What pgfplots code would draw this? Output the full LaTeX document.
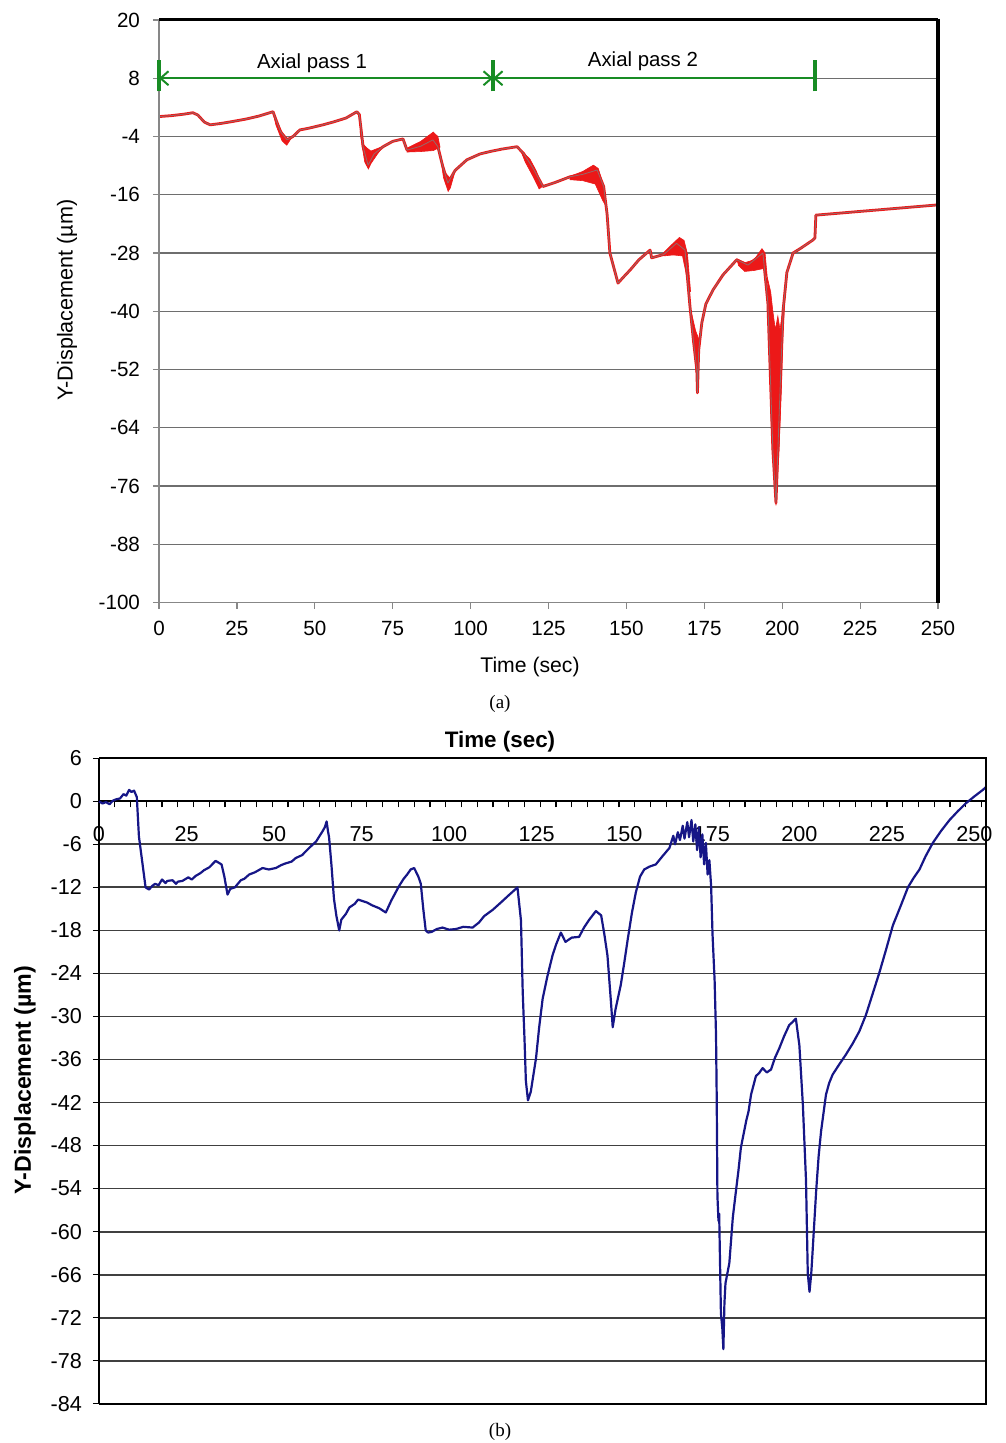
\documentclass[border=0pt]{standalone}
\usepackage{fontspec}
\setmainfont{Liberation Sans}
\newfontfamily\capfont{Liberation Serif}
\usepackage{pgfplots}
\usepackage{pgfplotstable}
\pgfplotsset{compat=1.18}
\usetikzlibrary{arrows.meta}

\definecolor{tracered}{RGB}{236,24,24}
\definecolor{traceedge}{RGB}{150,105,105}
\definecolor{passgreen}{RGB}{24,140,36}
\definecolor{tracenavy}{RGB}{22,22,135}
\definecolor{gridgray}{RGB}{110,110,110}
\definecolor{axisgray}{RGB}{135,135,135}

% (a) Y-displacement, red trace
\pgfplotstableread{
t v
0 0.1
4 0.3
8 0.6
10.9 0.9
12.5 0.4
14.5 -1.0
16.4 -1.6
20 -1.3
23.7 -0.9
28 -0.4
32 0.2
36.6 1.1
37.5 -0.5
39 -3
41.1 -4.7
43 -4.0
45.2 -2.65
48 -2.3
52.6 -1.6
56 -1.0
60 -0.2
63.5 1.1
64.3 0.5
65.5 -6.1
67.1 -9.9
69 -7.6
71.9 -6.1
75 -5
78.3 -4.5
79.6 -6.8
84 -6.0
87.9 -4.7
89.5 -6.1
91 -10
92.7 -13.6
95 -11
98.8 -8.8
103 -7.6
106.2 -7.1
110 -6.6
114.9 -6.1
117 -7.5
120 -10.5
123.2 -14.3
127 -13.5
131.9 -12.3
136 -11.8
140.6 -10.9
142.7 -14.3
143.8 -20
144.7 -28
147.3 -34.2
149 -33
151.2 -31.5
154 -29.4
157.6 -27.4
158.1 -29
162 -28.3
166.1 -26
168.8 -27.4
170.4 -39
171.5 -46
172.6 -52.1
172.8 -56.8
173.2 -48
174.2 -42.4
175.5 -38.5
177.8 -35.6
181 -32.5
185.4 -29.4
189 -30.5
193.8 -28
195.4 -38.3
197 -68.5
198 -79.5
199.2 -58
200.3 -39.7
201.5 -32
203.5 -28
206 -27
209.9 -25.3
210.5 -24.9
210.8 -20.2
249.7 -18.1
}\toptrace

% (b) Y-displacement, blue trace
\pgfplotstableread{
t v
0 0
1 -0.3
2 -0.1
3 -0.4
4 0.1
5 0.3
6 0.4
7 1.0
7.8 0.8
8.6 1.6
9.3 1.3
10 1.5
10.8 0.6
11.4 -4.9
12.5 -9
13.3 -12
14.3 -12.3
15.2 -11.8
16 -11.5
17 -11.7
18 -10.9
19 -11.4
19.5 -11.1
21 -11.0
22 -11.5
22.5 -11.2
23.8 -11.1
25.5 -10.6
26.5 -10.9
27.6 -10.4
29 -10.0
30 -9.6
31.5 -9.2
32.5 -8.7
33.3 -8.3
35 -8.8
35.8 -10.5
36.7 -13
37.5 -12.2
38.8 -12
40.5 -11.0
41.5 -10.8
42.9 -10.2
44.5 -9.9
46.7 -9.3
48.5 -9.5
50.5 -9.3
52 -8.9
53 -8.7
55 -8.4
56.2 -7.9
58 -7.5
60 -6.5
62 -5.6
63.8 -4.2
64.5 -3.6
65 -2.8
65.4 -4.2
65.7 -5
66.4 -9
67.1 -13.6
67.8 -16
68.6 -18
69.2 -16.5
70.5 -15.7
71.5 -14.8
73 -14.3
74 -13.7
75.2 -13.9
76.5 -14.1
78 -14.5
80 -14.9
81.9 -15.5
83.5 -13.8
85.7 -11.8
87 -10.8
88 -10.2
89 -9.5
90 -9.3
91.2 -10.5
91.9 -11.5
92.6 -15
93.3 -18
94 -18.3
95 -18.2
96.5 -17.8
98.1 -17.6
100 -17.9
102 -17.8
104 -17.5
106.7 -17.6
108.5 -16.9
110 -16
112.5 -15.1
115 -14
117 -13.1
119.5 -12
120.5 -16.6
121 -26.6
121.5 -33
121.9 -39
122.5 -41.7
123.3 -40.5
124.8 -35.8
125.7 -31.5
126.7 -27.5
128 -24.5
129.5 -21.5
130.5 -20
131.9 -18.3
133.2 -19.6
135 -19
137.1 -18.9
138.5 -17.6
140 -16.5
141.9 -15.3
143.4 -15.9
144.3 -18.5
145.2 -21.5
146.2 -28
146.7 -31.5
147.5 -29
149 -25.6
150 -22.5
151 -19.2
152.2 -15.5
153.3 -12.7
154.5 -10.5
155.7 -9.5
157.2 -9.1
159 -8.8
161 -7.6
162.9 -6.5
164 -4.8
164.5 -6.0
165.3 -4.3
165.9 -5.4
166.7 -3.4
167.2 -5.2
168 -2.9
168.5 -5.0
169.2 -2.6
169.7 -5.6
170.3 -3.2
170.8 -6.8
171.3 -3.6
171.8 -7.8
172.3 -4.6
172.8 -8.8
173.3 -5.8
173.8 -10.2
174.3 -8.2
174.8 -11.8
175.2 -18.5
175.8 -25
176.2 -32.6
176.4 -41.4
176.6 -55
176.9 -58.5
177.1 -57.5
177.6 -71.4
178 -73.5
178.3 -76.4
178.6 -70
178.9 -67.2
180 -64.4
181 -58
181.9 -54.3
182.6 -51.5
183.3 -48.3
184.8 -44.6
185.5 -43.2
186.2 -40.9
187.6 -38.3
188.5 -37.9
189.5 -37.2
190.7 -37.8
191.9 -37.4
193 -35.8
194.3 -34.4
195.6 -32.8
197.1 -31.2
198 -30.8
199 -30.3
200 -34
201 -42.3
201.9 -52.9
202.4 -65.8
202.9 -68.4
203.4 -65.8
203.8 -62.6
204.8 -54.3
205.5 -49.5
206.2 -46
207.6 -40.9
208.5 -39.3
209.5 -38.1
211.5 -36.6
213.3 -35.3
215.2 -33.8
217.1 -32.1
219 -29.8
220.5 -27.5
222.9 -23.8
224.8 -20.6
226.7 -17.3
229 -14.5
231 -12
232.6 -10.7
234.3 -9.5
236 -7.7
238.1 -5.8
240.5 -4.1
242.9 -2.6
245.2 -1.4
247.6 -0.25
250 0.7
252.4 1.6
253.3 2.0
}\bottomtrace

\begin{document}
\begin{tikzpicture}
% ---------------- panel (a) ----------------
\begin{axis}[
  at={(79.5pt,-301.25pt)}, anchor=south west,
  scale only axis, width=389.5pt, height=291.25pt,
  xmin=0, xmax=250, ymin=-100, ymax=20,
  xtick={0,25,...,250}, ytick={-100,-88,...,20},
  xtick pos=bottom, ytick pos=left, tick align=outside,
  major tick length=3pt,
  tick style={draw=axisgray, line width=0.6pt},
  axis line style={draw=none},
  ymajorgrids, grid style={draw=gridgray, line width=0.7pt},
  ticklabel style={font=\fontsize{10.3}{12}\selectfont},
  xticklabel style={yshift=-3pt},
  yticklabel style={xshift=-3pt},
  /pgf/number format/assume math mode=true,
  clip=false,
]
\addplot[tracered, line width=1.4pt, line join=round] table[x=t,y=v] {\toptrace};
% thicker oscillation bands along the trace
\addplot[fill=tracered, draw=tracered, line width=0.3pt] coordinates {
 (36.6,1.0) (38,-1.2) (40,-3.8) (41.5,-4.5) (43,-3.8) (41,-5.8) (39.5,-4.9) (37.5,-1.6)} -- cycle;
\addplot[fill=tracered, draw=tracered, line width=0.3pt] coordinates {
 (64.5,-3) (65.5,-5.6) (66.6,-6.3) (68,-7) (70,-6.5) (72,-6.0) (70,-7.7) (68,-9.6) (67.2,-10.7) (66,-9.2)} -- cycle;
\addplot[fill=tracered, draw=tracered, line width=0.3pt] coordinates {
 (79.6,-6.4) (84,-5) (88,-3.1) (89.5,-4.0) (90.2,-6.2) (88,-6.9) (84,-7.1) (79.6,-7.2)} -- cycle;
\addplot[fill=tracered, draw=tracered, line width=0.3pt] coordinates {
 (90.2,-7.5) (91.8,-11.4) (93.4,-12.6) (95,-11.2) (93.5,-14.6) (92.8,-15.3) (91.3,-12.5)} -- cycle;
\addplot[fill=tracered, draw=tracered, line width=0.3pt] coordinates {
 (116,-6.8) (119,-8.6) (121,-11) (123,-14.3) (122,-14.8) (120,-12.2) (117.5,-9.2)} -- cycle;
\addplot[fill=tracered, draw=tracered, line width=0.3pt] coordinates {
 (131.9,-12.2) (136,-11.2) (139.4,-9.9) (141,-10.6) (142.5,-14) (143.6,-18.5) (142.4,-17.2) (140,-13.8) (136,-13.1) (131.9,-12.9)} -- cycle;
\addplot[fill=tracered, draw=tracered, line width=0.3pt] coordinates {
 (162,-27.9) (165,-26) (167,-24.8) (168.5,-25.4) (169.6,-28.2) (170.6,-36) (169.4,-33) (168,-28.6) (165,-28.4) (162,-28.6)} -- cycle;
\addplot[fill=tracered, draw=tracered, line width=0.3pt] coordinates {
 (170.4,-39) (171.8,-46) (172.3,-52.5) (173,-52) (173.4,-46) (172.2,-44)} -- cycle;
\addplot[fill=tracered, draw=tracered, line width=0.3pt] coordinates {
 (185.4,-29.2) (188,-30) (191,-29.4) (193.5,-27.1) (194.5,-28) (195.2,-33) (194,-31.2) (191,-31.6) (188,-31.8) (186,-30.6)} -- cycle;
\addplot[fill=tracered, draw=tracered, line width=0.3pt] coordinates {
 (195.2,-33) (196.1,-44) (196.3,-60) (196.8,-68.5) (197.6,-76) (198,-80) (198.5,-74) (199,-68.5) (199.8,-55) (200.2,-45) (200.8,-38) (201.5,-33) (200.5,-38) (199.3,-43.8) (198.6,-41) (197.8,-43.8) (197,-40) (196.3,-36)} -- cycle;
\addplot[traceedge, line width=0.4pt, line join=round] table[x=t,y=v] {\toptrace};
% frame
\draw[axisgray, line width=0.9pt] (rel axis cs:0,1) -- (rel axis cs:0,0) -- (rel axis cs:1,0);
\draw[black, line width=1.5pt] (rel axis cs:0,1) -- (rel axis cs:1,1);
\draw[black, line width=2pt] (rel axis cs:1,1.0025) -- (rel axis cs:1,0);
% pass markers
\draw[passgreen, line width=1pt, {Straight Barb[length=4pt,width=7pt]}-{Straight Barb[length=4pt,width=7pt]}] (axis cs:0,8) -- (axis cs:107.2,8);
\draw[passgreen, line width=1pt, {Straight Barb[length=4pt,width=7pt]}-] (axis cs:107.2,8) -- (axis cs:210.5,8);
\draw[passgreen, line width=1.8pt] (axis cs:0,5.3) -- (axis cs:0,11.7);
\draw[passgreen, line width=1.8pt] (axis cs:107.2,5.3) -- (axis cs:107.2,11.7);
\draw[passgreen, line width=1.8pt] (axis cs:210.5,5.3) -- (axis cs:210.5,11.7);
\node[font=\fontsize{10.2}{12}\selectfont] at (axis cs:49.1,11.1) {Axial pass 1};
\node[font=\fontsize{10.2}{12}\selectfont] at (axis cs:155.3,11.5) {Axial pass 2};
\end{axis}
\node[font=\fontsize{10.6}{12}\selectfont] at (265pt,-333.5pt) {Time (sec)};
\node[font=\fontsize{10.8}{12}\selectfont, rotate=90] at (33.5pt,-150pt) {Y-Displacement (µm)};
\node[font=\capfont\fontsize{9.5}{11}\selectfont] at (250pt,-352pt) {(a)};

% ---------------- panel (b) ----------------
\begin{axis}[
  at={(49.5pt,-701.85pt)}, anchor=south west,
  scale only axis, width=443.5pt, height=322.7pt,
  xmin=0, xmax=253.3, ymin=-84, ymax=6,
  axis x line=middle, axis y line=left,
  axis line style={-},
  x axis line style={draw=black, line width=0.9pt},
  y axis line style={draw=black, line width=1.3pt},
  xtick={0,25,...,250},
  major x tick style={draw=none},
  minor xtick={4.5,9,...,252},
  minor x tick style={draw=black, line width=0.6pt, yshift=-1.5pt},
  minor tick length=3pt,
  ytick={-84,-78,...,6}, ytick align=outside, major tick length=3pt,
  y tick style={draw=black, line width=0.6pt},
  hide obscured x ticks=false,
  ymajorgrids, grid style={draw=black!75, line width=0.9pt},
  ticklabel style={font=\fontsize{10.8}{12}\selectfont},
  xticklabel style={yshift=-7.5pt},
  yticklabel style={xshift=-2pt},
  /pgf/number format/assume math mode=true,
  clip=false,
]
\addplot[tracenavy, line width=1.1pt, line join=round] table[x=t,y=v] {\bottomtrace};
\draw[black, line width=0.9pt] (rel axis cs:0,1) -- (rel axis cs:1,1) -- (rel axis cs:1,0) -- (rel axis cs:0,0);
\end{axis}
\node[font=\bfseries\fontsize{11.2}{13}\selectfont] at (250pt,-371pt) {Time (sec)};
\node[font=\bfseries\fontsize{11.6}{13}\selectfont, rotate=90] at (12.5pt,-540pt) {Y-Displacement (µm)};
\node[font=\capfont\fontsize{9.5}{11}\selectfont] at (250pt,-716pt) {(b)};

\pgfresetboundingbox
\path[use as bounding box] (0pt,0pt) rectangle (502.5pt,-721.5pt);
\end{tikzpicture}
\end{document}
